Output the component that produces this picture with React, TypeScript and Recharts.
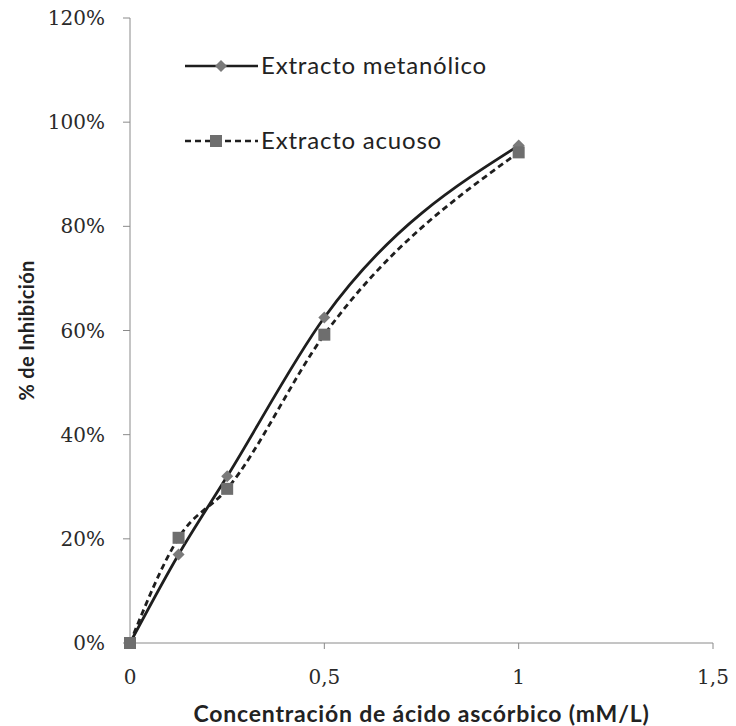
import { LineChart, Line, XAxis, YAxis } from "recharts";

// concentración (mM/L)
const concentraciones = [0, 0.125, 0.25, 0.5, 1];
const metanolico = [0, 0.17, 0.32, 0.625, 0.955];
const acuoso = [0, 0.202, 0.296, 0.592, 0.942];

const xTicks = [0, 0.5, 1, 1.5];
const yTicks = [0, 0.2, 0.4, 0.6, 0.8, 1.0, 1.2];

const LINE = "#1e1e1e";
const MARK = "#7a7a7a";
const SANS = "Lato, 'Open Sans', sans-serif";

const data = concentraciones.map((x, i) => ({
  x,
  met: metanolico[i],
  acu: acuoso[i],
}));

function Diamond(props: any) {
  const { cx, cy } = props;
  if (cx == null || cy == null) return null;
  const r = 6;
  return (
    <path
      d={`M${cx},${cy - r}L${cx + r},${cy}L${cx},${cy + r}L${cx - r},${cy}Z`}
      fill={MARK}
      stroke="none"
    />
  );
}

function Square(props: any) {
  const { cx, cy } = props;
  if (cx == null || cy == null) return null;
  const s = 12;
  return <rect x={cx - s / 2} y={cy - s / 2} width={s} height={s} fill="#6e6e6e" />;
}

// legend drawn as an overlay, so recharts doesn't reserve room for it
function LegendBox() {
  const font = { fontFamily: SANS, fontSize: 24, letterSpacing: 0.8, fill: "#222" };
  return (
    <svg width={420} height={110} style={{ display: "block", overflow: "visible" }}>
      <line x1={2} y1={14} x2={75} y2={14} stroke={LINE} strokeWidth={2.5} />
      <Diamond cx={38} cy={14} />
      <text x={78} y={22} style={font}>
        Extracto metanólico
      </text>
      <line x1={2} y1={89} x2={75} y2={89} stroke={LINE} strokeWidth={2.5} strokeDasharray="6 4" />
      <Square cx={33} cy={89} />
      <text x={78} y={97} style={font}>
        Extracto acuoso
      </text>
    </svg>
  );
}

const tickFont = { fontFamily: "'DejaVu Serif', serif", fontSize: 20, fill: "#2a2a2a" };

export default function App() {
  return (
    <div style={{ position: "absolute", left: 0, top: 0, width: 736, height: 726, background: "#fff" }}>
      <LineChart
        width={736}
        height={726}
        data={data}
        margin={{ top: 18, right: 23, left: 0, bottom: 0 }}
      >
        <XAxis
          dataKey="x"
          type="number"
          domain={[0, 1.5]}
          ticks={xTicks}
          tickFormatter={(v: number) => String(v).replace(".", ",")}
          stroke="#8a8a8a"
          tickSize={6}
          tickMargin={21}
          tick={tickFont}
          height={83}
          label={{
            value: "Concentración de ácido ascórbico (mM/L)",
            position: "insideBottom",
            offset: 4,
            style: { fontFamily: SANS, fontSize: 23, letterSpacing: 0.8, fontWeight: 700, fill: "#222" },
          }}
        />
        <YAxis
          type="number"
          domain={[0, 1.2]}
          ticks={yTicks}
          tickFormatter={(v: number) => `${Math.round(v * 100)}%`}
          stroke="#8a8a8a"
          tickSize={7}
          tickMargin={18}
          tick={tickFont}
          width={130}
          label={{
            value: "% de Inhibición",
            angle: -90,
            position: "center",
            dx: -38,
            style: { fontFamily: SANS, fontSize: 20, letterSpacing: 0.3, fontWeight: 700, fill: "#222", textAnchor: "middle" },
          }}
        />
        <Line
          dataKey="met"
          type="monotone"
          stroke={LINE}
          strokeWidth={2.8}
          dot={<Diamond />}
          activeDot={false}
          isAnimationActive={false}
        />
        <Line
          dataKey="acu"
          type="monotone"
          stroke={LINE}
          strokeWidth={2.8}
          strokeDasharray="6 4"
          dot={<Square />}
          activeDot={false}
          isAnimationActive={false}
        />
      </LineChart>
      <div style={{ position: "absolute", left: 183, top: 52 }}>
        <LegendBox />
      </div>
    </div>
  );
}
